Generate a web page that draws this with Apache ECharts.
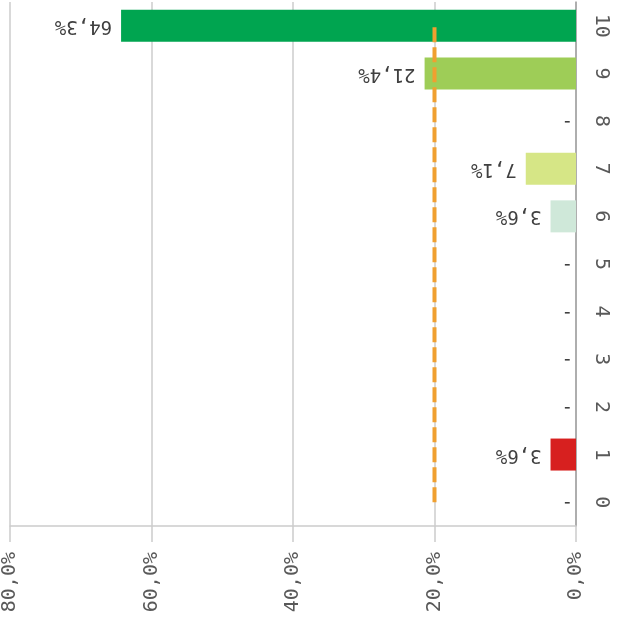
<!DOCTYPE html>
<html>
<head>
<meta charset="utf-8">
<script src="https://cdn.jsdelivr.net/npm/echarts@6/dist/echarts.min.js"></script>
<style>html,body{margin:0;padding:0;background:#fff;}#c{width:625px;height:625px;}</style>
</head>
<body>
<div id="c"></div>
<script>
var categories = ['0','1','2','3','4','5','6','7','8','9','10'];
var shares = [0, 3.6, 0, 0, 0, 0, 3.6, 7.1, 0, 21.4, 64.3];
var barColors = ['#d7201f','#d7201f','#d7201f','#d7201f','#d7201f','#cfe8d9','#cfe8d9','#d6e686','#9ecd57','#9ecd57','#00a550'];
var referenceLine = [20, 20, 20, 20, 20, 20, 20, 20, 20, 20, 20];
var valueTicks = [0, 20, 40, 60, 80];

var FONT = 'DejaVu Sans Mono';
var chart = echarts.init(document.getElementById('c'), null, {renderer: 'canvas'});
function pct(v){ return v.toFixed(1).replace('.', ',') + '%'; }
chart.setOption({
  animation: false,
  grid: {left: 10, right: 49, top: 2, bottom: 99, containLabel: false},
  xAxis: {
    type: 'value', inverse: true, position: 'bottom',
    min: valueTicks[0], max: valueTicks[valueTicks.length-1], interval: 20,
    axisLine: {show: true, lineStyle: {color: '#cccccc', width: 1.5}},
    axisTick: {show: true, length: 16, lineStyle: {color: '#cccccc', width: 1.5}},
    splitLine: {show: true, lineStyle: {color: '#cccccc', width: 1.5}},
    axisLabel: {rotate: 90, margin: 26, fontSize: 20, fontFamily: FONT, color: '#595959',
      formatter: function(v){ return pct(v); }}
  },
  yAxis: {
    type: 'category', position: 'right', data: categories,
    axisLine: {show: true, lineStyle: {color: '#a0a0a0', width: 1.5}},
    axisTick: {show: false},
    axisLabel: {rotate: -90, margin: 15, fontSize: 20, fontFamily: FONT, color: '#595959'}
  },
  series: [
    {
      type: 'bar', barWidth: 32,
      data: shares.map(function(v, i){
        var item = {value: v, itemStyle: {color: barColors[i]}};
        if (v === 0) item.label = {distance: 3};
        return item;
      }),
      label: {
        show: true, position: 'left', distance: 9, rotate: 180, align: 'left', verticalAlign: 'middle',
        fontSize: 19, fontFamily: FONT, color: '#404040',
        formatter: function(p){ return p.value === 0 ? '-' : pct(p.value); }
      }
    },
    {
      type: 'line', data: referenceLine, symbol: 'none', z: 5,
      lineStyle: {color: '#f0a030', width: 4, type: [15, 5]}
    }
  ]
});
</script>
</body>
</html>
